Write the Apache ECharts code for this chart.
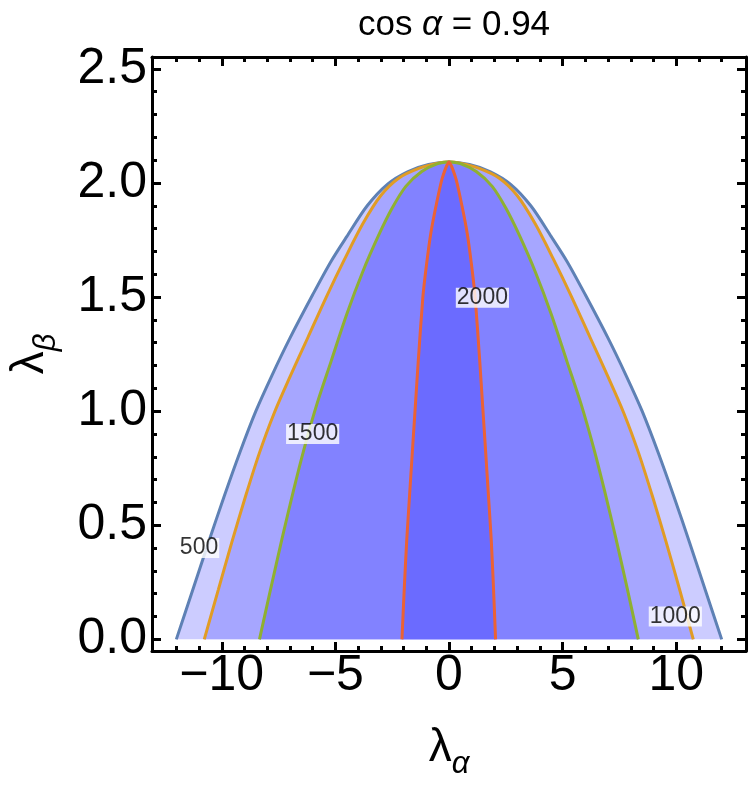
<!DOCTYPE html>
<html>
<head>
<meta charset="utf-8">
<script src="https://cdn.jsdelivr.net/npm/echarts@6/dist/echarts.min.js"></script>
<style>html,body{margin:0;padding:0;background:#fff;}#chart{width:750px;height:786px;}</style>
</head>
<body>
<div id="chart"></div>
<script>
// ---- data ----
const contour500 = [[-12.0,0],[-11.3,0.21],[-10.6,0.42],[-9.9,0.625],[-9.2,0.82],[-8.5,1.0],[-7.8,1.155],[-7.0,1.32],[-6.0,1.51],[-5.2,1.655],[-4.5,1.765],[-3.6,1.9],[-2.7,1.995],[-1.8,2.05],[-0.9,2.081],[0,2.092],[0.9,2.081],[1.8,2.05],[2.7,1.995],[3.6,1.9],[4.5,1.765],[5.2,1.655],[6.0,1.51],[7.0,1.32],[7.8,1.155],[8.5,1.0],[9.2,0.82],[9.9,0.625],[10.6,0.42],[11.3,0.21],[12.0,0]];
const contour1000 = [[-10.77,0],[-10.15,0.218],[-9.55,0.428],[-8.95,0.628],[-8.35,0.815],[-7.7,0.99],[-7.0,1.15],[-6.2,1.325],[-5.4,1.5],[-4.6,1.665],[-3.8,1.82],[-3.0,1.945],[-2.2,2.022],[-1.3,2.065],[-0.5,2.087],[0,2.092],[0.5,2.087],[1.3,2.065],[2.2,2.022],[3.0,1.945],[3.8,1.82],[4.6,1.665],[5.4,1.5],[6.2,1.325],[7.0,1.15],[7.7,0.99],[8.35,0.815],[8.95,0.628],[9.55,0.428],[10.15,0.218],[10.75,0]];
const contour1500 = [[-8.34,0],[-7.85,0.22],[-7.35,0.44],[-6.85,0.65],[-6.35,0.845],[-5.8,1.035],[-5.2,1.215],[-4.5,1.425],[-3.8,1.61],[-3.1,1.77],[-2.5,1.89],[-1.9,1.985],[-1.2,2.05],[-0.5,2.085],[0,2.092],[0.5,2.085],[1.2,2.05],[1.9,1.985],[2.5,1.89],[3.1,1.77],[3.8,1.61],[4.5,1.425],[5.2,1.215],[5.8,1.035],[6.35,0.845],[6.85,0.65],[7.35,0.44],[7.85,0.22],[8.33,0]];
const contour2000 = [[-2.07,0],[-1.97,0.22],[-1.86,0.435],[-1.72,0.655],[-1.58,0.873],[-1.47,1.04],[-1.36,1.209],[-1.15,1.501],[-0.98,1.65],[-0.8,1.78],[-0.57,1.9],[-0.3,2.02],[0,2.092],[0.3,2.02],[0.57,1.9],[0.8,1.78],[0.98,1.65],[1.15,1.501],[1.36,1.209],[1.47,1.04],[1.58,0.873],[1.72,0.655],[1.86,0.435],[1.96,0.22],[2.05,0]];
const contourLevels = [500, 1000, 1500, 2000];
const labelAnchors = [[-11.0,0.40],[9.96,0.10],[-6.0,0.90],[1.47,1.497]];
const xMajorTicks = [-10,-5,0,5,10];
const xMinorTicks = [-12,-11,-9,-8,-7,-6,-4,-3,-2,-1,1,2,3,4,6,7,8,9,11,12];
const yMajorTicks = [0,0.5,1.0,1.5,2.0,2.5];
const yMinorTicks = [0.1,0.2,0.3,0.4,0.6,0.7,0.8,0.9,1.1,1.2,1.3,1.4,1.6,1.7,1.8,1.9,2.1,2.2,2.3,2.4];
const xRange = [-13.07, 13.07];
const yRange = [-0.051, 2.552];
const titleText = '{n|cos }{i|α}{n| = 0.94}';

// ---- styles ----
const lineColors = ['#5e81b5','#e19c24','#8fb032','#eb6235'];
const fillColors = ['#ccccff','#a6a6ff','#8282ff','#6b6bff'];
const contours = [contour500, contour1000, contour1500, contour2000];
const smoothness = [0.3, 0.3, 0.3, 0.2];
const font = 'Liberation Sans, Arial, sans-serif';
const gridRect = {left:152, top:57, width:594, height:594};

const chart = echarts.init(document.getElementById('chart'));

function fmtX(v){ return v < 0 ? '\u2212' + Math.abs(v) : String(v); }
function fmtY(v){ return Number(v).toFixed(1); }

const grids = [0,1,2,3].map(()=>Object.assign({containLabel:false, outerBoundsMode:'none'}, gridRect));

function xAxisDef(gi, pos, ticks, len, major){
  return {
    type:'value', gridIndex:gi, position:pos, min:xRange[0], max:xRange[1],
    axisLine:{show:major, onZero:false, lineStyle:{color:'#000', width:3}},
    axisTick:{show:true, inside:true, length:len, customValues:ticks, lineStyle:{color:'#000', width:3}},
    axisLabel:{show:(major && pos==='bottom'), customValues:ticks, formatter:fmtX, fontSize:50, color:'#000', fontFamily:font, margin:0},
    splitLine:{show:false}
  };
}
function yAxisDef(gi, pos, ticks, len, major){
  return {
    type:'value', gridIndex:gi, position:pos, min:yRange[0], max:yRange[1],
    axisLine:{show:major, onZero:false, lineStyle:{color:'#000', width:3}},
    axisTick:{show:true, inside:true, length:len, customValues:ticks, lineStyle:{color:'#000', width:3}},
    axisLabel:{show:(major && pos==='left'), customValues:ticks, formatter:fmtY, fontSize:50, color:'#000', fontFamily:font, margin:5},
    splitLine:{show:false}
  };
}

const xAxes = [
  xAxisDef(0,'bottom',xMajorTicks,9,true),
  xAxisDef(1,'top',xMajorTicks,9,true),
  xAxisDef(2,'bottom',xMinorTicks,5,false),
  xAxisDef(3,'top',xMinorTicks,5,false)
];
const yAxes = [
  yAxisDef(0,'left',yMajorTicks,9,true),
  yAxisDef(1,'right',yMajorTicks,9,true),
  yAxisDef(2,'left',yMinorTicks,5,false),
  yAxisDef(3,'right',yMinorTicks,5,false)
];
const nameRich = {a:{fontSize:46, fontFamily:font, color:'#000', verticalAlign:'top'}, b:{fontSize:31, fontStyle:'italic', fontFamily:font, color:'#000', padding:[24,0,0,0], verticalAlign:'top'}};
xAxes[0].name = '{a|λ}{b|α}';
xAxes[0].nameLocation = 'middle';
xAxes[0].nameGap = 74;
xAxes[0].nameTextStyle = {rich:nameRich};
yAxes[0].name = '{a|λ}{b|β}';
yAxes[0].nameLocation = 'middle';
yAxes[0].nameRotate = 90;
yAxes[0].nameGap = 90;
yAxes[0].nameTextStyle = {rich:nameRich};

const series = contours.map((c,i)=>({
  type:'line', xAxisIndex:0, yAxisIndex:0, data:c, showSymbol:false, smooth:smoothness[i],
  lineStyle:{color:lineColors[i], width:3},
  itemStyle:{color:lineColors[i]},
  areaStyle:{color:fillColors[i], opacity:1, origin:'auto'},
  z:2+i, silent:true
}));
series.push({
  type:'scatter', xAxisIndex:0, yAxisIndex:0, z:10, symbolSize:1,
  itemStyle:{color:'rgba(0,0,0,0)'},
  data: labelAnchors.map((p,i)=>[p[0],p[1],contourLevels[i]]),
  label:{show:true, position:'inside', formatter:p=>String(p.value[2]), fontSize:23, fontFamily:font, color:'#000', textBorderWidth:0, textBorderColor:'transparent', textShadowBlur:0, backgroundColor:'#fff', padding:[-1,1,-2,1]}
});

chart.setOption({
  animation:false,
  backgroundColor:'#fff',
  title:{text:titleText, left:449, textAlign:'center', top:3, textStyle:{rich:{n:{fontSize:35, fontWeight:'normal', fontFamily:font, color:'#000'}, i:{fontSize:35, fontWeight:'normal', fontStyle:'italic', fontFamily:font, color:'#000'}}}},
  grid:grids,
  xAxis:xAxes,
  yAxis:yAxes,
  series:series
});
</script>
</body>
</html>
